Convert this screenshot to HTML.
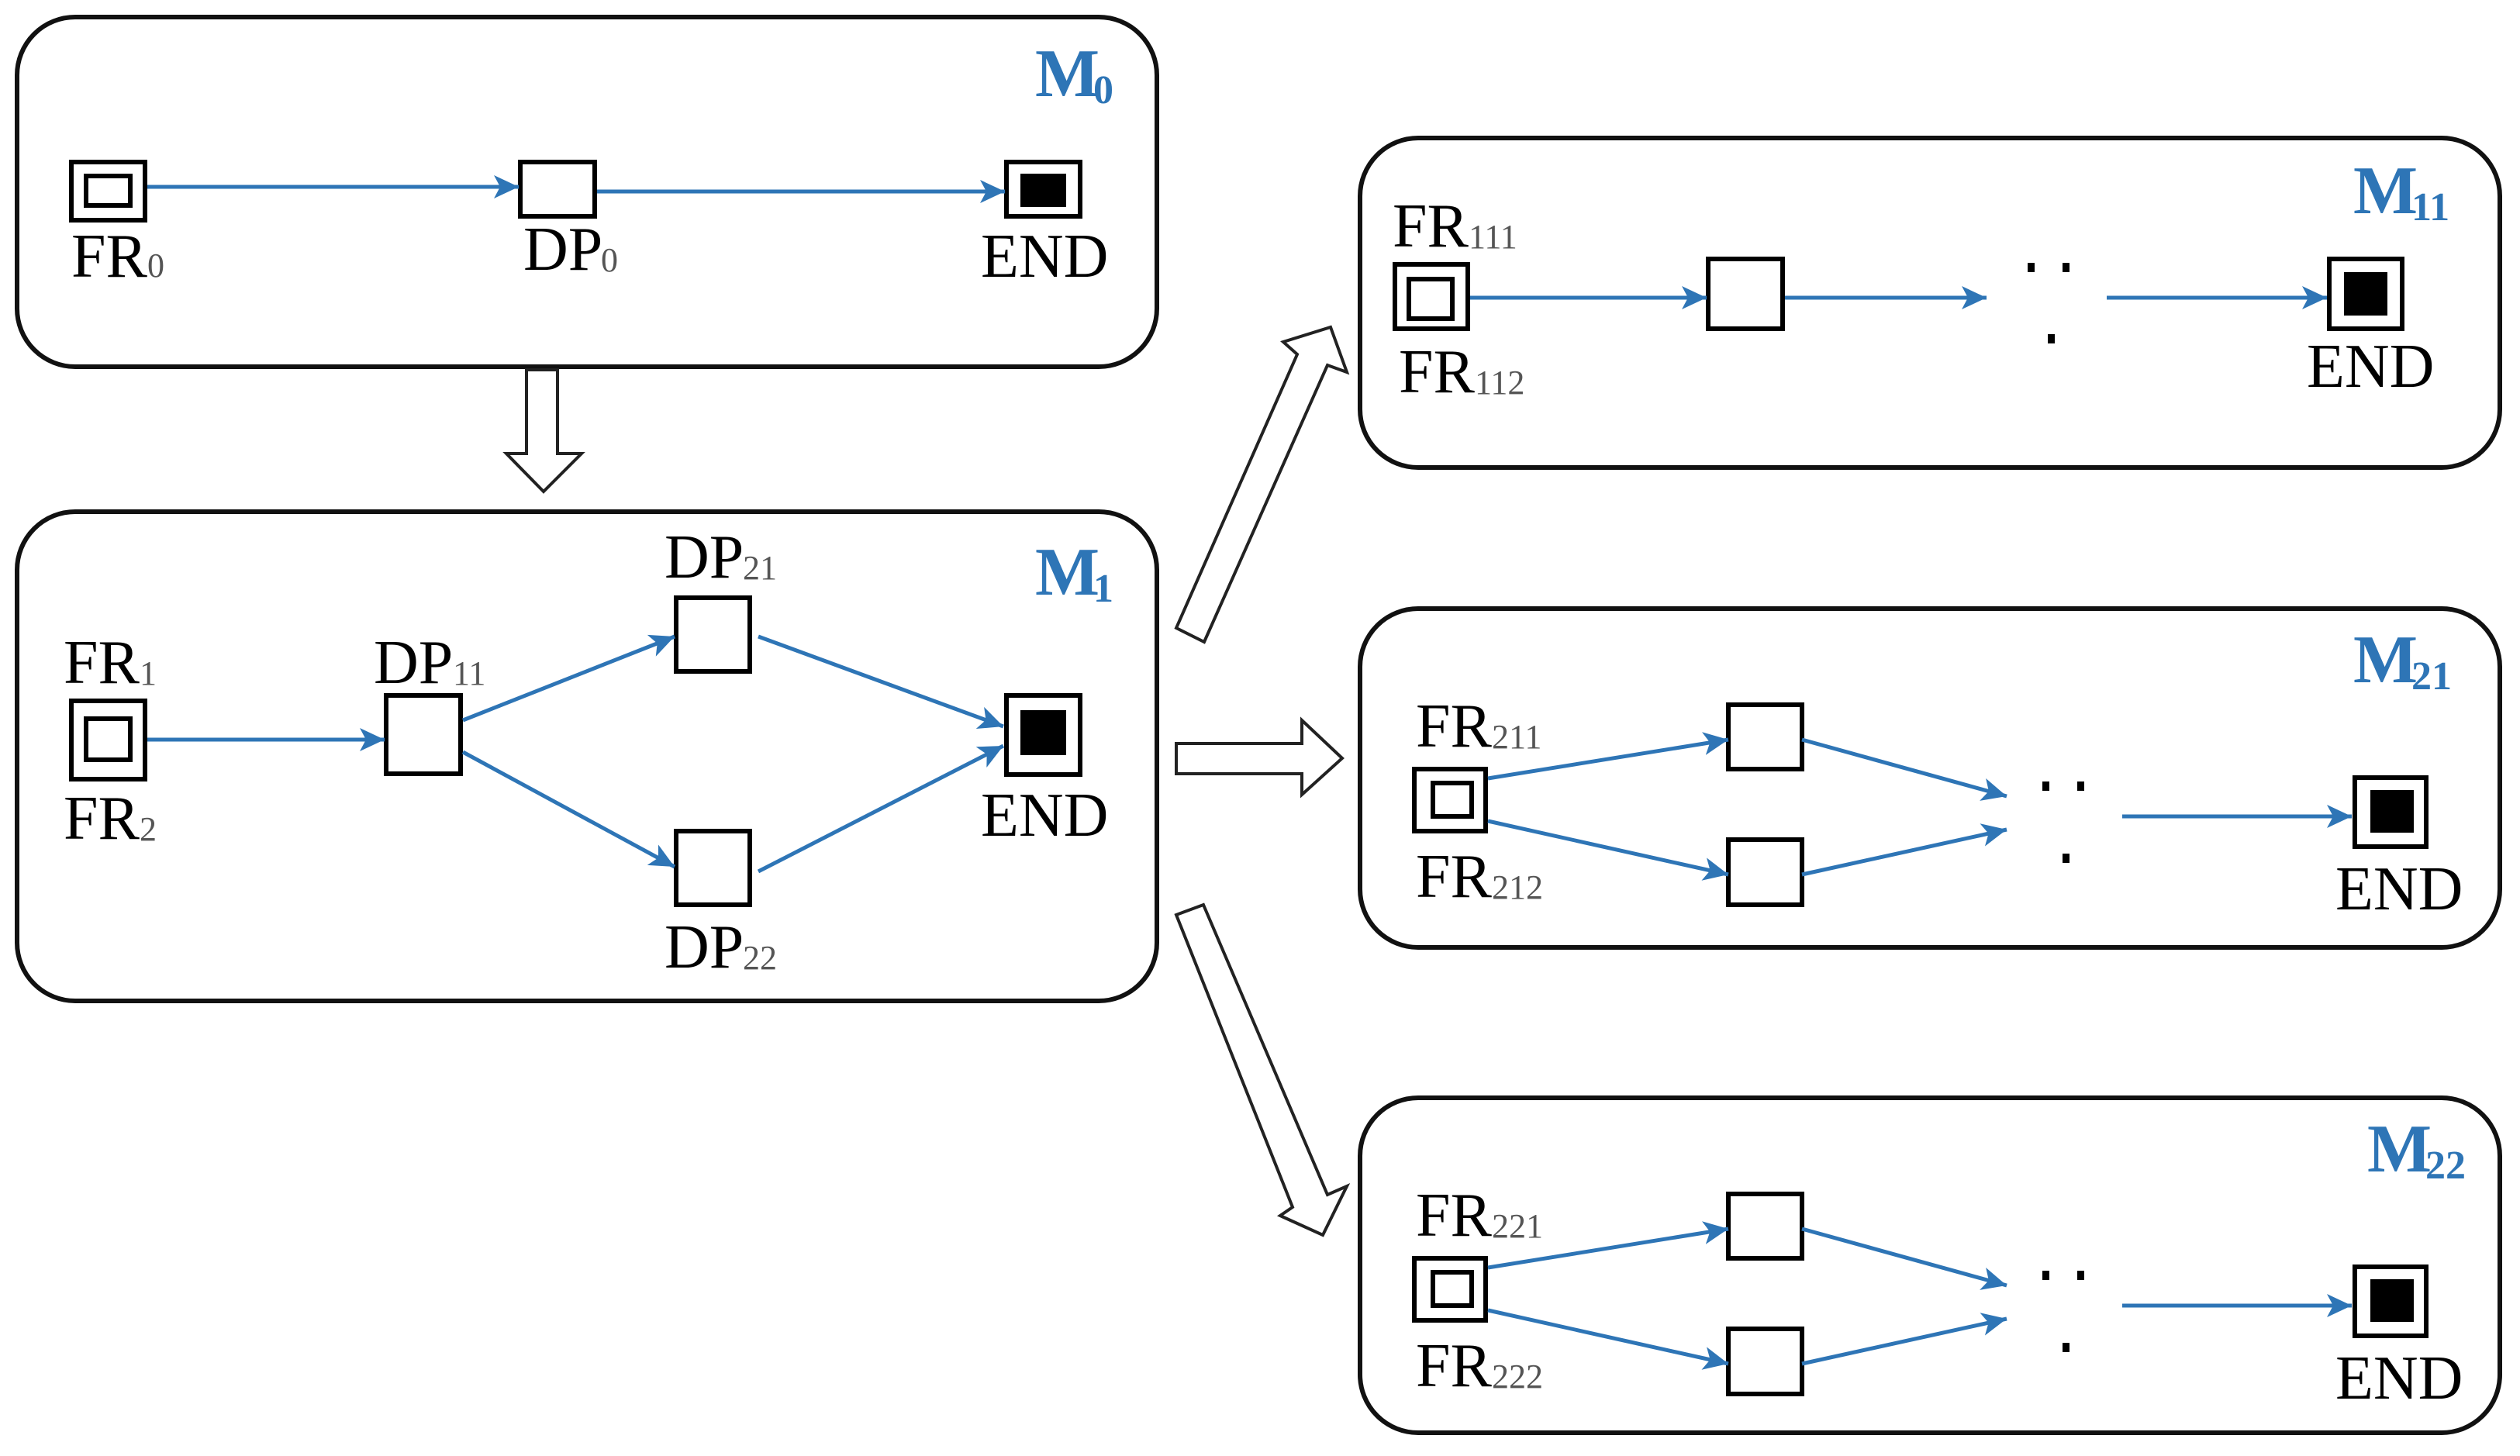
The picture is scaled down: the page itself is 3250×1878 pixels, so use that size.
<!DOCTYPE html>
<html><head><meta charset="utf-8"><style>
html,body{margin:0;padding:0;background:#fff}
svg{display:block}
text{font-family:"Liberation Serif",serif;fill:#000}
.l{font-size:80px}
.s{font-size:44px;fill:#555}
.m{font-size:88px;font-weight:bold;fill:#2e75b6}
.ms{font-size:52px;font-weight:bold;fill:#2e75b6}
.c{fill:none;stroke:#111;stroke-width:6}
.b{fill:#fff;stroke:#000;stroke-width:6}
.e{stroke:#2e75b6;stroke-width:5;fill:none;marker-end:url(#ah)}
.h{fill:#fff;stroke:#222;stroke-width:4;stroke-linejoin:miter}
</style></head><body>
<svg width="3250" height="1878" viewBox="0 0 3250 1878" xmlns="http://www.w3.org/2000/svg">
<defs>
<marker id="ah" markerUnits="userSpaceOnUse" markerWidth="34" markerHeight="32" refX="32" refY="15" orient="auto">
<path d="M0,0 L32,15 L0,30 L8,15 z" fill="#2e75b6"/>
</marker>
</defs>

<!-- containers -->
<rect class="c" x="22" y="22" width="1470" height="451" rx="75"/>
<rect class="c" x="22" y="660" width="1470" height="631" rx="75"/>
<rect class="c" x="1754" y="178" width="1470" height="425" rx="75"/>
<rect class="c" x="1754" y="785" width="1470" height="437" rx="75"/>
<rect class="c" x="1754" y="1416" width="1470" height="432" rx="75"/>

<!-- hollow arrows -->
<polygon class="h" points="679,477 719,477 719,585 750,585 701,634 653,585 679,585"/>
<polygon class="h" points="1517,810 1673,457 1655,441 1716,422 1737,480 1712,471 1553,828"/>
<polygon class="h" points="1517,959 1679,959 1679,929 1731,978 1679,1025 1679,998 1517,998"/>
<polygon class="h" points="1517,1180 1667,1557 1651,1568 1706,1593 1737,1530 1712,1541 1552,1167"/>

<!-- M0 -->
<text class="m" x="1335" y="124">M</text><text class="ms" x="1410" y="133">0</text>
<rect class="b" x="92" y="209" width="95" height="75"/>
<rect class="b" x="111" y="227" width="57" height="38"/>
<rect class="b" x="671" y="209" width="96" height="70"/>
<rect class="b" x="1298" y="209" width="95" height="70"/>
<rect x="1316" y="224" width="59" height="43" fill="#000"/>
<line class="e" x1="190" y1="241" x2="669" y2="241"/>
<line class="e" x1="770" y1="247" x2="1296" y2="247"/>
<text class="l" x="92" y="357">FR</text><text class="s" x="190" y="357">0</text>
<text class="l" x="675" y="348">DP</text><text class="s" x="775" y="350">0</text>
<text class="l" x="1265" y="357">END</text>

<!-- M1 -->
<text class="m" x="1335" y="767">M</text><text class="ms" x="1410" y="776">1</text>
<rect class="b" x="92" y="904" width="95" height="101"/>
<rect class="b" x="111" y="927" width="57" height="53"/>
<rect class="b" x="498" y="897" width="96" height="101"/>
<rect class="b" x="872" y="771" width="95" height="95"/>
<rect class="b" x="872" y="1072" width="95" height="95"/>
<rect class="b" x="1298" y="897" width="95" height="102"/>
<rect x="1316" y="916" width="59" height="58" fill="#000"/>
<line class="e" x1="190" y1="954" x2="496" y2="954"/>
<line class="e" x1="597" y1="929" x2="870" y2="821"/>
<line class="e" x1="597" y1="970" x2="870" y2="1118"/>
<line class="e" x1="978" y1="821" x2="1294" y2="937"/>
<line class="e" x1="978" y1="1124" x2="1294" y2="962"/>
<text class="l" x="82" y="881">FR</text><text class="s" x="180" y="883">1</text>
<text class="l" x="82" y="1082">FR</text><text class="s" x="180" y="1084">2</text>
<text class="l" x="482" y="881">DP</text><text class="s" x="584" y="883">11</text>
<text class="l" x="857" y="745">DP</text><text class="s" x="958" y="747">21</text>
<text class="l" x="857" y="1248">DP</text><text class="s" x="958" y="1250">22</text>
<text class="l" x="1265" y="1078">END</text>

<!-- M11 -->
<text class="m" x="3035" y="275">M</text><text class="ms" x="3110" y="284">11</text>
<rect class="b" x="1799" y="341" width="94" height="83"/>
<rect class="b" x="1817" y="360" width="56" height="51"/>
<rect class="b" x="2203" y="334" width="96" height="90"/>
<rect class="b" x="3004" y="334" width="94" height="90"/>
<rect x="3023" y="351" width="56" height="56" fill="#000"/>
<line class="e" x1="1896" y1="384" x2="2201" y2="384"/>
<line class="e" x1="2302" y1="384" x2="2562" y2="384"/>
<line class="e" x1="2717" y1="384" x2="3001" y2="384"/>
<rect x="2615" y="339" width="9" height="12" fill="#000"/>
<rect x="2660" y="339" width="9" height="12" fill="#000"/>
<rect x="2641" y="431" width="9" height="12" fill="#000"/>
<text class="l" x="1796" y="318">FR</text><text class="s" x="1894" y="320">111</text>
<text class="l" x="1804" y="506">FR</text><text class="s" x="1902" y="508">112</text>
<text class="l" x="2975" y="499">END</text>

<!-- M21 -->
<text class="m" x="3035" y="880">M</text><text class="ms" x="3110" y="889">21</text>
<rect class="b" x="1824" y="992" width="92" height="80"/>
<rect class="b" x="1848" y="1010" width="50" height="43"/>
<rect class="b" x="2229" y="909" width="95" height="83"/>
<rect class="b" x="2229" y="1083" width="95" height="84"/>
<rect class="b" x="3037" y="1003" width="92" height="89"/>
<rect x="3057" y="1019" width="56" height="55" fill="#000"/>
<line class="e" x1="1919" y1="1004" x2="2229" y2="954"/>
<line class="e" x1="1919" y1="1059" x2="2229" y2="1128"/>
<line class="e" x1="2324" y1="954" x2="2588" y2="1027"/>
<line class="e" x1="2324" y1="1128" x2="2588" y2="1070"/>
<line class="e" x1="2737" y1="1053" x2="3033" y2="1053"/>
<rect x="2634" y="1008" width="9" height="12" fill="#000"/>
<rect x="2679" y="1008" width="9" height="12" fill="#000"/>
<rect x="2660" y="1101" width="9" height="12" fill="#000"/>
<text class="l" x="1826" y="963">FR</text><text class="s" x="1924" y="965">211</text>
<text class="l" x="1826" y="1157">FR</text><text class="s" x="1924" y="1159">212</text>
<text class="l" x="3012" y="1173">END</text>

<!-- M22 -->
<g transform="translate(0,631)">
<text class="m" x="3053" y="880">M</text><text class="ms" x="3128" y="889">22</text>
<rect class="b" x="1824" y="992" width="92" height="80"/>
<rect class="b" x="1848" y="1010" width="50" height="43"/>
<rect class="b" x="2229" y="909" width="95" height="83"/>
<rect class="b" x="2229" y="1083" width="95" height="84"/>
<rect class="b" x="3037" y="1003" width="92" height="89"/>
<rect x="3057" y="1019" width="56" height="55" fill="#000"/>
<line class="e" x1="1919" y1="1004" x2="2229" y2="954"/>
<line class="e" x1="1919" y1="1059" x2="2229" y2="1128"/>
<line class="e" x1="2324" y1="954" x2="2588" y2="1027"/>
<line class="e" x1="2324" y1="1128" x2="2588" y2="1070"/>
<line class="e" x1="2737" y1="1053" x2="3033" y2="1053"/>
<rect x="2634" y="1008" width="9" height="12" fill="#000"/>
<rect x="2679" y="1008" width="9" height="12" fill="#000"/>
<rect x="2660" y="1101" width="9" height="12" fill="#000"/>
<text class="l" x="1826" y="963">FR</text><text class="s" x="1924" y="965">221</text>
<text class="l" x="1826" y="1157">FR</text><text class="s" x="1924" y="1159">222</text>
<text class="l" x="3012" y="1173">END</text>
</g>
</svg>
</body></html>
